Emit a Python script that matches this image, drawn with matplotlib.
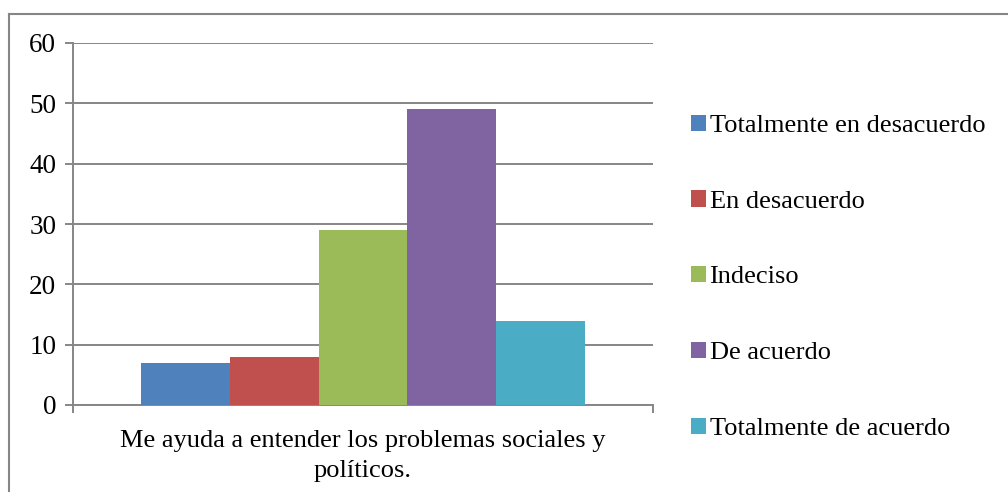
import matplotlib
matplotlib.use("Agg")
import matplotlib.pyplot as plt
from matplotlib.lines import Line2D

# datos
categoria = "Me ayuda a entender los problemas sociales y\npolíticos."
respuestas = ["Totalmente en desacuerdo", "En desacuerdo", "Indeciso",
              "De acuerdo", "Totalmente de acuerdo"]
valores = [7, 8, 29, 49, 14]
colores = ["#4F81BD", "#C0504D", "#9BBB59", "#8064A2", "#4BACC6"]
yticks = [0, 10, 20, 30, 40, 50, 60]

plt.rcParams['font.family'] = ['Liberation Serif', 'DejaVu Serif']
gris = "#868686"
W, H = 1008, 492

fig = plt.figure(figsize=(W / 100, H / 100), dpi=100)
ax = fig.add_axes([73 / W, 87 / H, 580 / W, 362 / H])

ancho = 0.764 / len(valores)
barras = []
for i, (v, c) in enumerate(zip(valores, colores)):
    b = ax.bar((i - 2) * ancho, v, width=ancho, color=c, zorder=3)
    barras.append(b)

ax.set_xlim(-0.5, 0.5)
ax.set_ylim(0, 60)
ax.set_yticks(yticks)
ax.yaxis.grid(True, color=gris, linewidth=1.4, zorder=0)
ax.set_xticks([-0.5, 0.5])
ax.set_xticklabels([])
ax.set_xticks([0], minor=True)
ax.set_xticklabels([categoria], minor=True, fontsize=19, linespacing=1.45)
ax.tick_params(axis='x', which='minor', length=0, pad=18)
ax.tick_params(axis='x', which='major', length=6, color=gris, width=1.4)
ax.tick_params(axis='y', length=6, color=gris, width=1.4, labelsize=19.5, pad=6)

for s in ['top', 'right']:
    ax.spines[s].set_visible(False)
for s in ['left', 'bottom']:
    ax.spines[s].set_color(gris)
    ax.spines[s].set_linewidth(1.4)

fig.legend(barras, respuestas, loc='upper left', bbox_to_anchor=(680 / W, 1 - 104 / H),
           frameon=False, fontsize=19, handlelength=0.57, handleheight=0.57,
           handletextpad=0.15, labelspacing=2.02, borderaxespad=0)

# marco del grafico (solo se ven el borde superior e izquierdo)
fig.add_artist(Line2D([9 / W, 1], [1 - 14 / H, 1 - 14 / H], color=gris, lw=1.5,
                      transform=fig.transFigure))
fig.add_artist(Line2D([9 / W, 9 / W], [0, 1 - 14 / H], color=gris, lw=1.5,
                      transform=fig.transFigure))

fig.savefig("out.png", dpi=100)
